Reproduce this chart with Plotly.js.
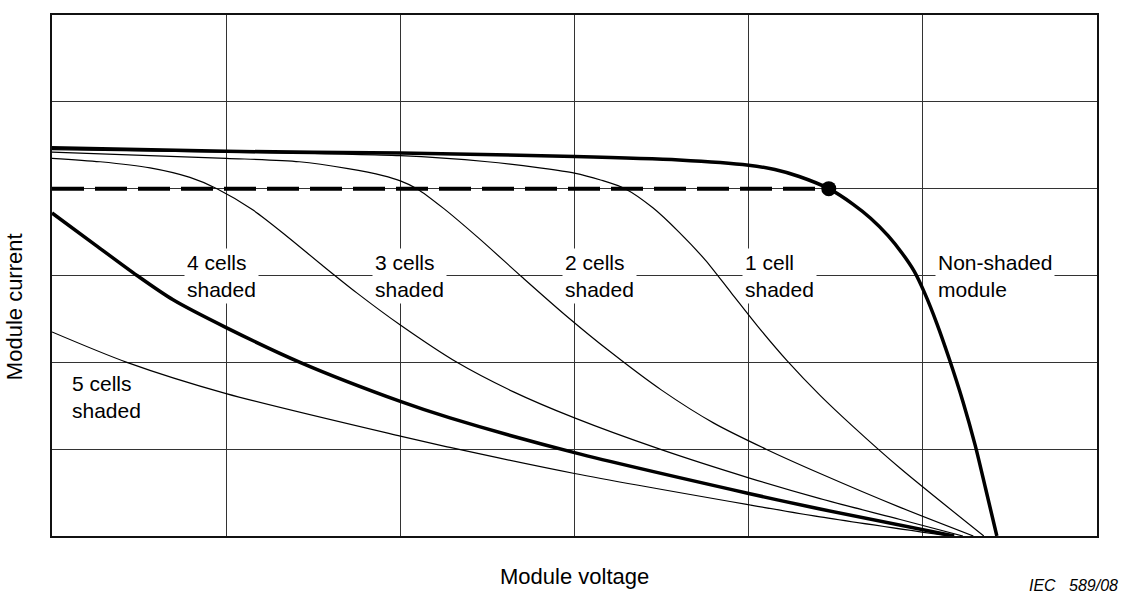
<!DOCTYPE html>
<html>
<head>
<meta charset="utf-8">
<script src="https://cdn.plot.ly/plotly-3.0.1.min.js"></script>
<style>html,body{margin:0;padding:0;background:#fff;}#chart{width:1121px;height:597px;}</style>
</head>
<body>
<div id="chart"></div>
<script>
// Module voltage (grid units) and module current (grid units)
const nonShadedV = [0, 1.0, 2.0, 3.0, 3.6, 4.0, 4.15, 4.29, 4.46, 4.6, 4.7, 4.8, 4.88, 4.95, 5.01, 5.08, 5.15, 5.23, 5.30, 5.36, 5.425];
const nonShadedI = [4.47, 4.43, 4.41, 4.37, 4.33, 4.27, 4.22, 4.14, 4.0, 3.82, 3.66, 3.46, 3.26, 3.05, 2.80, 2.45, 2.05, 1.55, 1.05, 0.55, 0];

const oneCellV = [0, 1.0, 2.0, 2.5, 2.8, 3.0, 3.15, 3.29, 3.45, 3.6, 3.75, 3.9, 4.05, 4.22, 4.41, 4.6, 4.87, 5.35];
const oneCellI = [4.45, 4.42, 4.38, 4.31, 4.24, 4.18, 4.10, 4.0, 3.78, 3.50, 3.18, 2.80, 2.42, 2.02, 1.62, 1.26, 0.78, 0];

const twoCellV = [0, 1.0, 1.42, 1.7, 1.9, 2.0, 2.095, 2.25, 2.45, 2.7, 2.95, 3.2, 3.5, 3.8, 4.1, 4.41, 4.87, 5.29];
const twoCellI = [4.42, 4.35, 4.31, 4.23, 4.15, 4.09, 4.0, 3.77, 3.43, 2.98, 2.54, 2.13, 1.68, 1.30, 1.00, 0.72, 0.33, 0];

const threeCellV = [0, 0.276, 0.563, 0.792, 0.947, 1.15, 1.35, 1.55, 1.75, 2.0, 2.325, 2.65, 3.0, 3.49, 4.0, 4.41, 4.87, 5.23];
const threeCellI = [4.35, 4.31, 4.24, 4.13, 4.0, 3.76, 3.45, 3.12, 2.80, 2.43, 2.0, 1.66, 1.36, 1.0, 0.67, 0.43, 0.19, 0];

const fourCellV = [0, 0.25, 0.488, 0.695, 1.0, 1.424, 2.0, 2.285, 3.0, 4.0, 4.41, 5.18];
const fourCellI = [3.72, 3.35, 3.0, 2.72, 2.40, 2.0, 1.55, 1.36, 0.96, 0.49, 0.31, 0];

const fiveCellV = [0, 0.43, 1.0, 2.0, 2.285, 3.0, 4.0, 4.41, 5.15];
const fiveCellI = [2.35, 2.0, 1.64, 1.15, 1.02, 0.72, 0.36, 0.22, 0];

const mppV = [0, 4.46];
const mppI = [4.0, 4.0];
const markerV = [4.46];
const markerI = [4.0];

const labelTexts = ['4 cells<br>shaded', '3 cells<br>shaded', '2 cells<br>shaded', '1 cell<br>shaded', 'Non-shaded<br>module', '5 cells<br>shaded'];
const labelV = [0.76, 1.84, 2.93, 3.96, 5.07, 0.1];
const labelI = [3.0, 3.0, 3.0, 3.0, 3.0, 1.6];

const xTitle = 'Module voltage';
const yTitle = 'Module current';
const caption = 'IEC   589/08';

const thin = {color: '#000', width: 1.2, shape: 'spline', smoothing: 0.8};
const thick = {color: '#000', width: 3.5, shape: 'spline', smoothing: 0.8};

const traces = [
  {x: fiveCellV, y: fiveCellI, mode: 'lines', line: thin},
  {x: fourCellV, y: fourCellI, mode: 'lines', line: thick},
  {x: threeCellV, y: threeCellI, mode: 'lines', line: thin},
  {x: twoCellV, y: twoCellI, mode: 'lines', line: thin},
  {x: oneCellV, y: oneCellI, mode: 'lines', line: thin},
  {x: mppV, y: mppI, mode: 'lines', line: {color: '#000', width: 4, dash: '32px,11px'}},
  {x: nonShadedV, y: nonShadedI, mode: 'lines', line: thick},
  {x: markerV, y: markerI, mode: 'markers', marker: {color: '#000', size: 15}}
];

const family = 'Liberation Sans, Arial, sans-serif';
const labelFont = {family: family, size: 21, color: '#000'};
const titleFont = {family: family, size: 22, color: '#000'};

const annotations = labelTexts.map((t, i) => ({
  x: labelV[i], y: labelI[i], xref: 'x', yref: 'y', text: t, showarrow: false,
  xanchor: 'left', yanchor: 'middle', align: 'left', bgcolor: '#fff', borderpad: 2, font: labelFont
}));
annotations.push({x: 0.5, y: -0.078, xref: 'paper', yref: 'paper', text: xTitle, showarrow: false,
  xanchor: 'center', yanchor: 'middle', font: titleFont});
annotations.push({x: -0.036, y: 0.44, xref: 'paper', yref: 'paper', text: yTitle, showarrow: false,
  textangle: -90, xanchor: 'center', yanchor: 'middle', font: titleFont});
annotations.push({x: 1.021, y: -0.113, xref: 'paper', yref: 'paper', text: '<i>' + caption + '</i>', showarrow: false,
  xanchor: 'right', yanchor: 'bottom', borderpad: 0, font: {family: family, size: 16, color: '#000'}});

const axisBase = {range: [0, 6], dtick: 1, tick0: 0, showgrid: true, gridcolor: '#333', gridwidth: 1,
  zeroline: false, showticklabels: false, ticks: '', showline: true, mirror: true, linecolor: '#111', linewidth: 2, fixedrange: true};

const layout = {
  width: 1121, height: 597,
  margin: {l: 52, r: 24, t: 15, b: 61},
  paper_bgcolor: '#fff', plot_bgcolor: '#fff',
  showlegend: false,
  xaxis: Object.assign({}, axisBase),
  yaxis: Object.assign({}, axisBase),
  annotations: annotations,
  font: labelFont
};

Plotly.newPlot('chart', traces, layout, {staticPlot: true, displayModeBar: false});
</script>
</body>
</html>
